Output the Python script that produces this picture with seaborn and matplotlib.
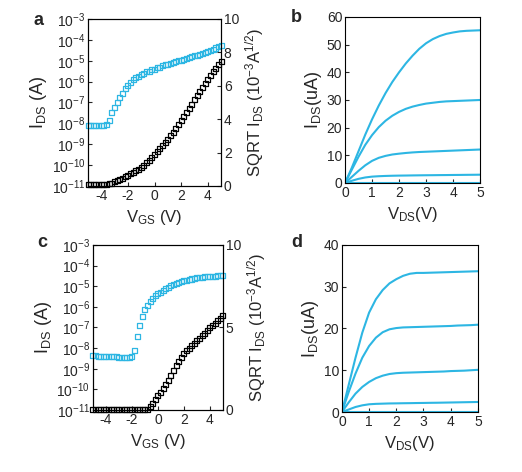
import numpy as np
import pandas as pd
import matplotlib
matplotlib.use("Agg")
import matplotlib.pyplot as plt
import seaborn as sns

sns.set_theme(style="ticks")
plt.rcParams['font.family'] = ['Liberation Sans', 'DejaVu Sans']
plt.rcParams['mathtext.fontset'] = 'custom'
plt.rcParams['mathtext.rm'] = 'Liberation Sans'
plt.rcParams['mathtext.it'] = 'Liberation Sans'
plt.rcParams['mathtext.bf'] = 'Liberation Sans:bold'

CYAN = '#2db6e3'

# ---------------- data ----------------
vgs = [round(-5 + 0.2 * i, 1) for i in range(51)]

a_ids = [8.1e-9, 8.1e-9, 8.1e-9, 8.1e-9, 8.1e-9, 8.1e-9, 8.3e-9, 8.7e-9, 1.4e-8, 3.2e-8,
         5.6e-8, 1.0e-7, 1.8e-7, 2.8e-7, 4.5e-7, 6.3e-7, 8.9e-7, 1.2e-6, 1.5e-6, 1.8e-6,
         2.2e-6, 2.5e-6, 2.9e-6, 3.2e-6, 3.6e-6, 4.0e-6, 4.5e-6, 5.0e-6, 5.6e-6, 6.3e-6,
         6.9e-6, 7.6e-6, 8.3e-6, 9.1e-6, 1.0e-5, 1.07e-5, 1.17e-5, 1.29e-5, 1.41e-5, 1.55e-5,
         1.7e-5, 1.86e-5, 2.04e-5, 2.29e-5, 2.57e-5, 2.88e-5, 3.24e-5, 3.63e-5, 4.07e-5, 4.57e-5,
         5.13e-5]
a_sqrt = [0.1, 0.1, 0.1, 0.1, 0.1, 0.1, 0.1, 0.1, 0.12, 0.17,
          0.24, 0.32, 0.4, 0.47, 0.55, 0.63, 0.72, 0.8, 0.9, 1.0,
          1.12, 1.25, 1.4, 1.55, 1.7, 1.88, 2.05, 2.22, 2.4, 2.6,
          2.8, 3.0, 3.22, 3.45, 3.68, 3.92, 4.16, 4.4, 4.65, 4.9,
          5.15, 5.4, 5.65, 5.9, 6.15, 6.4, 6.62, 6.84, 7.05, 7.26,
          7.45]

c_ids = [4.2e-9, 4.2e-9, 4.1e-9, 4.1e-9, 4.0e-9, 4.0e-9, 3.9e-9, 3.9e-9, 3.8e-9, 3.8e-9,
         3.7e-9, 3.7e-9, 3.6e-9, 3.6e-9, 3.5e-9, 3.8e-9, 7.9e-9, 3.5e-8, 1.26e-7, 3.5e-7,
         7.1e-7, 1.2e-6, 1.78e-6, 2.5e-6, 3.4e-6, 4.3e-6, 5.2e-6, 6.3e-6, 7.6e-6, 8.9e-6,
         1.05e-5, 1.2e-5, 1.35e-5, 1.51e-5, 1.66e-5, 1.82e-5, 1.95e-5, 2.09e-5, 2.24e-5, 2.4e-5,
         2.51e-5, 2.63e-5, 2.69e-5, 2.82e-5, 2.88e-5, 2.95e-5, 3.02e-5, 3.09e-5, 3.16e-5, 3.24e-5,
         3.31e-5]
c_sqrt = [0.0, 0.0, 0.0, 0.0, 0.0, 0.0, 0.0, 0.0, 0.0, 0.0,
          0.0, 0.0, 0.0, 0.0, 0.0, 0.0, 0.0, 0.0, 0.0, 0.0,
          0.0, 0.05, 0.2, 0.4, 0.62, 0.85, 1.08, 1.32, 1.55, 1.8,
          2.1, 2.4, 2.7, 2.95, 3.2, 3.4, 3.58, 3.74, 3.9, 4.05,
          4.2, 4.35, 4.5, 4.65, 4.8, 4.97, 5.12, 5.27, 5.42, 5.56,
          5.7]

vds = [0.25 * i for i in range(21)]
b_curves = {
    'g1': [0, 5.5, 11.5, 17.5, 23, 28, 32.5, 36.5, 40, 43.2, 46, 48.5, 50.5, 52, 53.1, 53.9, 54.4, 54.8, 55, 55.1, 55.2],
    'g2': [0, 4.8, 9.5, 13.8, 17.3, 20.2, 22.5, 24.3, 25.7, 26.8, 27.6, 28.2, 28.7, 29, 29.3, 29.5, 29.6, 29.7, 29.8, 29.9, 30],
    'g3': [0, 2.2, 4.4, 6.4, 8.0, 9.1, 9.8, 10.3, 10.6, 10.85, 11.05, 11.2, 11.3, 11.4, 11.5, 11.6, 11.7, 11.8, 11.9, 12, 12.1],
    'g4': [0, 0.8, 1.5, 2.0, 2.3, 2.45, 2.55, 2.62, 2.67, 2.7, 2.74, 2.77, 2.8, 2.82, 2.85, 2.87, 2.9, 2.92, 2.95, 2.97, 3.0],
    'g5': [0] * 21,
}
d_curves = {
    'g1': [0, 6.5, 13, 19, 23.8, 27, 29.2, 30.8, 31.8, 32.6, 33.1, 33.3, 33.3, 33.35, 33.4, 33.45, 33.5, 33.55, 33.6, 33.65, 33.7],
    'g2': [0, 4.8, 9.2, 13, 15.8, 17.8, 19.1, 19.8, 20.1, 20.25, 20.3, 20.35, 20.4, 20.45, 20.5, 20.55, 20.6, 20.7, 20.75, 20.8, 20.9],
    'g3': [0, 2.3, 4.4, 6, 7.2, 8.1, 8.7, 9.1, 9.3, 9.4, 9.45, 9.5, 9.55, 9.6, 9.65, 9.7, 9.8, 9.85, 9.9, 10, 10.1],
    'g4': [0, 0.6, 1.2, 1.6, 1.85, 1.95, 2.0, 2.05, 2.07, 2.1, 2.12, 2.15, 2.17, 2.2, 2.22, 2.25, 2.28, 2.31, 2.34, 2.37, 2.4],
    'g5': [0] * 21,
}

# ---------------- figure ----------------
fig = plt.figure(figsize=(5.22, 4.72), dpi=100)

TICK_FS = 10
LAB_FS = 12


def style_axis(ax):
    ax.tick_params(direction='in', length=3, width=0.8, labelsize=TICK_FS, pad=2)
    for s in ax.spines.values():
        s.set_linewidth(0.8)
        s.set_color('black')
        s.set_visible(True)


def transfer(rect, ids, sq, right_max, right_ticks, letter, letter_xy):
    ax = fig.add_axes(rect)
    ax2 = ax.twinx()
    df = pd.DataFrame({'V': vgs, 'I': ids, 'S': sq})
    sns.scatterplot(data=df, x='V', y='I', ax=ax, marker='s', s=13,
                    facecolors='none', edgecolors=CYAN, linewidths=0.9, legend=False,
                    clip_on=False, zorder=3)
    sns.scatterplot(data=df, x='V', y='S', ax=ax2, marker='s', s=13,
                    facecolors='none', edgecolors='black', linewidths=0.9, legend=False,
                    clip_on=False, zorder=3)
    ax.set_yscale('log')
    ax.set_ylim(1e-11, 1e-3)
    ax.set_yticks([10.0 ** e for e in range(-11, -2)])
    ax.yaxis.set_minor_locator(matplotlib.ticker.NullLocator())
    ax.set_xlim(-5, 5)
    ax.set_xticks([-4, -2, 0, 2, 4])
    ax.set_xticklabels(['-4', '-2', '0', '2', '4'])
    ax2.set_ylim(0, right_max)
    ax2.set_yticks(right_ticks)
    style_axis(ax)
    style_axis(ax2)
    ax.set_xlabel(r'V$_{\mathrm{GS}}$ (V)', fontsize=LAB_FS, labelpad=4)
    ax.set_ylabel(r'I$_{\mathrm{DS}}$ (A)', fontsize=LAB_FS + 1, labelpad=2)
    ax2.set_ylabel(r'SQRT I$_{\mathrm{DS}}$ (10$^{\mathrm{-3}}$A$^{\mathrm{1/2}}$)',
                   fontsize=LAB_FS, labelpad=3)
    fig.text(letter_xy[0], letter_xy[1], letter, fontsize=13, fontweight='bold',
             ha='left', va='top')


def output(rect, curves, ymax, yticks, letter, letter_xy):
    ax = fig.add_axes(rect)
    rows = []
    for k, vals in curves.items():
        for v, i in zip(vds, vals):
            rows.append({'V': v, 'I': i, 'g': k})
    df = pd.DataFrame(rows)
    sns.lineplot(data=df, x='V', y='I', units='g', estimator=None, ax=ax,
                 color=CYAN, linewidth=1.5, legend=False)
    ax.set_xlim(0, 5)
    ax.set_ylim(0, ymax)
    ax.set_xticks([0, 1, 2, 3, 4, 5])
    ax.set_yticks(yticks)
    style_axis(ax)
    ax.set_xlabel(r'V$_{\mathrm{DS}}$(V)', fontsize=LAB_FS, labelpad=4)
    ax.set_ylabel(r'I$_{\mathrm{DS}}$(uA)', fontsize=LAB_FS + 1, labelpad=2)
    fig.text(letter_xy[0], letter_xy[1], letter, fontsize=13, fontweight='bold',
             ha='left', va='top')


transfer([0.1686, 0.606, 0.2548, 0.3538], a_ids, a_sqrt, 10, [0, 2, 4, 6, 8, 10],
         'a', (0.065, 0.975))
output([0.661, 0.6123, 0.2586, 0.3517], b_curves, 60, [0, 10, 20, 30, 40, 50, 60],
       'b', (0.558, 0.98))
transfer([0.178, 0.1314, 0.249, 0.3496], c_ids, c_sqrt, 10, [0, 5, 10],
         'c', (0.072, 0.505))
output([0.655, 0.1271, 0.2605, 0.354], d_curves, 40, [0, 10, 20, 30, 40],
       'd', (0.558, 0.505))

fig.savefig('out.png', dpi=100)
